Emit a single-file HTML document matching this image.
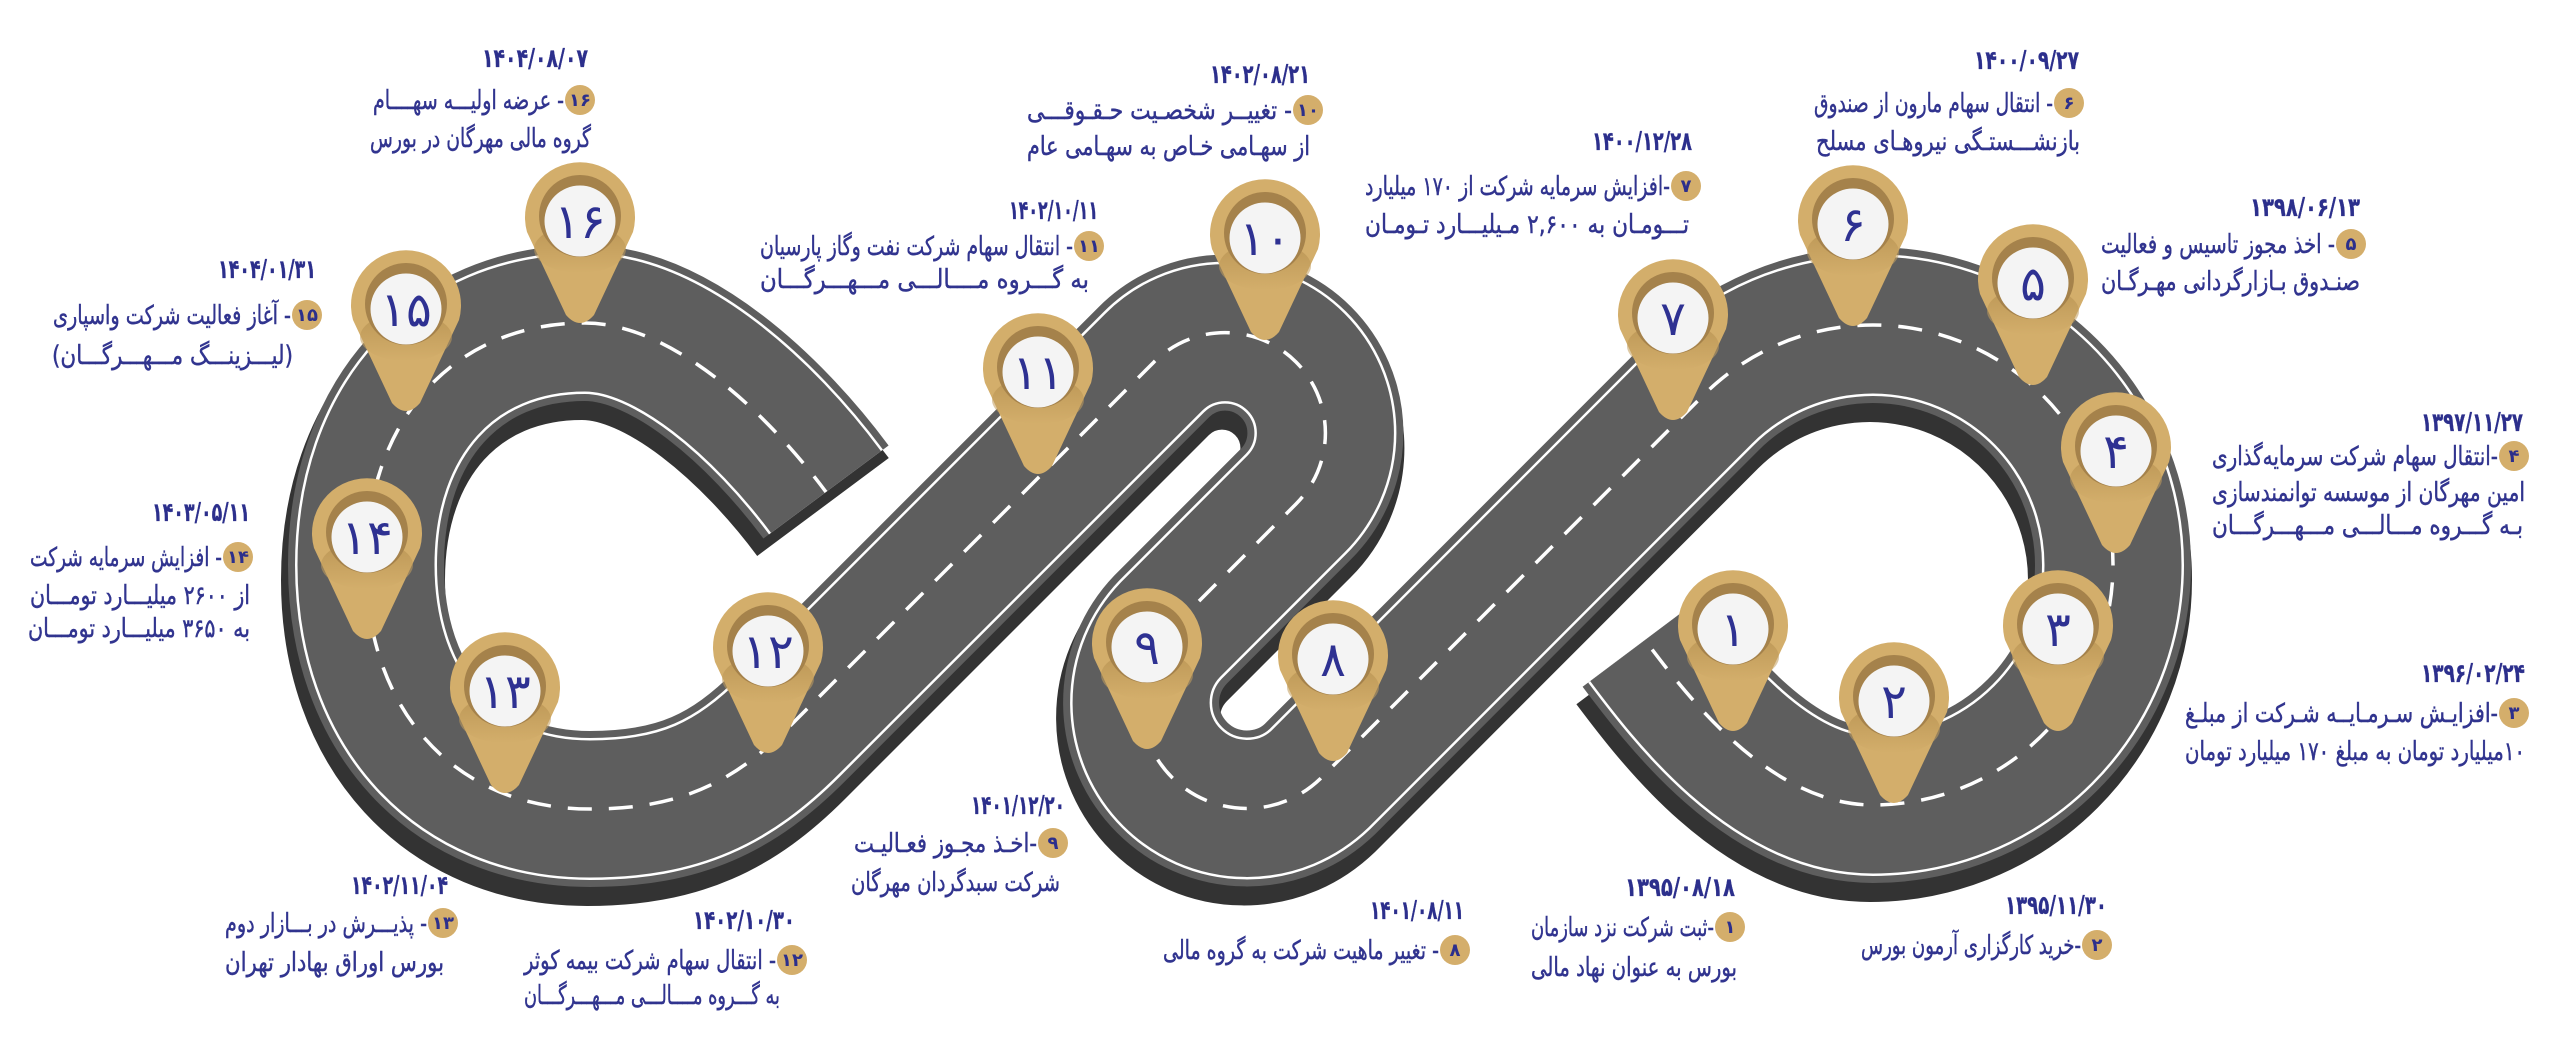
<!DOCTYPE html>
<html><head><meta charset="utf-8">
<style>
html,body{margin:0;padding:0;background:#fff;}
svg{display:block;}
.t{font-family:"DejaVu Sans","Liberation Sans",sans-serif;font-size:26px;fill:#31348f;stroke:#31348f;stroke-width:0.45;direction:rtl;}
.d{font-family:"DejaVu Sans","Liberation Sans",sans-serif;font-size:26px;font-weight:bold;fill:#2c2f8c;stroke:#2c2f8c;stroke-width:0.3;}
.b{font-family:"DejaVu Sans","Liberation Sans",sans-serif;font-size:18px;font-weight:bold;fill:#2c2f8c;}
.n{font-family:"DejaVu Sans","Liberation Sans",sans-serif;font-size:48px;fill:#2e3192;}
</style></head>
<body>
<svg width="2560" height="1056" viewBox="0 0 2560 1056" xmlns="http://www.w3.org/2000/svg">
<defs>
<path id="road" fill="none" d="M 1645 640 C 1687 696 1770 805 1873 805 A 240 240 0 0 0 2113 565 A 240 240 0 0 0 1703.3 395.3 L 1320 779 A 105.7 105.7 0 0 1 1170.5 629.6 L 1296 504 A 100.4 100.4 0 0 0 1154 362 L 790 726 C 733.4 782.6 680 809 590 809 C 456 809 366 711 366 565 C 366 420 454 323 585 323 C 670 323 765 410 826 492"/>
<linearGradient id="sh" x1="0" y1="0" x2="0" y2="1">
<stop offset="0" stop-color="#a98445"/>
<stop offset="1" stop-color="#d3ae6b"/>
</linearGradient>
<g id="pin">
<path d="M -53,15 A 55 55 0 1 1 53,15 L 14,98 Q 0,114 -14,98 Z" fill="#d3ae6b"/>
<ellipse cx="0" cy="32" rx="46" ry="24" fill="url(#sh)" opacity="0.55"/>
<circle cx="0" cy="-1" r="41" fill="#a5824b"/>
<circle cx="0" cy="4" r="35.5" fill="#f4f4f4"/>
</g>
</defs>

<!-- road -->
<use href="#road" stroke="#333333" stroke-width="164" transform="translate(-3,15)"/>
<use href="#road" stroke="#5e5e5e" stroke-width="156"/>
<use href="#road" stroke="#ffffff" stroke-width="142"/>
<use href="#road" stroke="#5e5e5e" stroke-width="137"/>
<use href="#road" stroke="#ffffff" stroke-width="3.5" stroke-dasharray="24 17" stroke-dashoffset="-12"/>

<!-- pins -->
<g transform="translate(580,217)"><use href="#pin"/><text class="n" x="0" y="21" text-anchor="middle">۱۶</text></g>
<g transform="translate(1853,220)"><use href="#pin"/><text class="n" x="0" y="21" text-anchor="middle">۶</text></g>
<g transform="translate(1265,234)"><use href="#pin"/><text class="n" x="0" y="21" text-anchor="middle">۱۰</text></g>
<g transform="translate(2033,279)"><use href="#pin"/><text class="n" x="0" y="21" text-anchor="middle">۵</text></g>
<g transform="translate(406,305)"><use href="#pin"/><text class="n" x="0" y="21" text-anchor="middle">۱۵</text></g>
<g transform="translate(1673,314)"><use href="#pin"/><text class="n" x="0" y="21" text-anchor="middle">۷</text></g>
<g transform="translate(1038,368)"><use href="#pin"/><text class="n" x="0" y="21" text-anchor="middle">۱۱</text></g>
<g transform="translate(2116,447)"><use href="#pin"/><text class="n" x="0" y="21" text-anchor="middle">۴</text></g>
<g transform="translate(367,533)"><use href="#pin"/><text class="n" x="0" y="21" text-anchor="middle">۱۴</text></g>
<g transform="translate(1733,625)"><use href="#pin"/><text class="n" x="0" y="21" text-anchor="middle">۱</text></g>
<g transform="translate(2058,625)"><use href="#pin"/><text class="n" x="0" y="21" text-anchor="middle">۳</text></g>
<g transform="translate(1147,643)"><use href="#pin"/><text class="n" x="0" y="21" text-anchor="middle">۹</text></g>
<g transform="translate(768,647)"><use href="#pin"/><text class="n" x="0" y="21" text-anchor="middle">۱۲</text></g>
<g transform="translate(1333,655)"><use href="#pin"/><text class="n" x="0" y="21" text-anchor="middle">۸</text></g>
<g transform="translate(505,687)"><use href="#pin"/><text class="n" x="0" y="21" text-anchor="middle">۱۳</text></g>
<g transform="translate(1894,697)"><use href="#pin"/><text class="n" x="0" y="21" text-anchor="middle">۲</text></g>

<!-- badges -->
<g fill="#d4ae6b">
<circle cx="580" cy="100" r="15"/>
<circle cx="307" cy="315" r="15"/>
<circle cx="238" cy="557" r="15"/>
<circle cx="443" cy="923" r="15"/>
<circle cx="792" cy="960" r="15"/>
<circle cx="1089" cy="246" r="15"/>
<circle cx="1308" cy="110" r="15"/>
<circle cx="1053" cy="843" r="15"/>
<circle cx="1455" cy="950" r="15"/>
<circle cx="1686" cy="186" r="15"/>
<circle cx="2069" cy="103" r="15"/>
<circle cx="2351" cy="244" r="15"/>
<circle cx="2514" cy="456" r="15"/>
<circle cx="2514" cy="713" r="15"/>
<circle cx="2097" cy="945" r="15"/>
<circle cx="1730" cy="927" r="15"/>
</g>
<g text-anchor="middle">
<text class="b" x="580" y="106">۱۶</text>
<text class="b" x="307" y="321">۱۵</text>
<text class="b" x="238" y="563">۱۴</text>
<text class="b" x="443" y="929">۱۳</text>
<text class="b" x="792" y="966">۱۲</text>
<text class="b" x="1089" y="252">۱۱</text>
<text class="b" x="1308" y="116">۱۰</text>
<text class="b" x="1053" y="849">۹</text>
<text class="b" x="1455" y="956">۸</text>
<text class="b" x="1686" y="192">۷</text>
<text class="b" x="2069" y="109">۶</text>
<text class="b" x="2351" y="250">۵</text>
<text class="b" x="2514" y="462">۴</text>
<text class="b" x="2514" y="719">۳</text>
<text class="b" x="2097" y="951">۲</text>
<text class="b" x="1730" y="933">۱</text>
</g>

<!-- dates -->
<g text-anchor="middle">
<text class="d" x="535" y="67" textLength="106" lengthAdjust="spacingAndGlyphs">۱۴۰۴/۰۸/۰۷</text>
<text class="d" x="267" y="278" textLength="98" lengthAdjust="spacingAndGlyphs">۱۴۰۴/۰۱/۳۱</text>
<text class="d" x="201" y="521" textLength="98" lengthAdjust="spacingAndGlyphs">۱۴۰۳/۰۵/۱۱</text>
<text class="d" x="399.5" y="894" textLength="97" lengthAdjust="spacingAndGlyphs">۱۴۰۲/۱۱/۰۴</text>
<text class="d" x="744" y="929" textLength="102" lengthAdjust="spacingAndGlyphs">۱۴۰۲/۱۰/۳۰</text>
<text class="d" x="1053.5" y="219" textLength="89" lengthAdjust="spacingAndGlyphs">۱۴۰۲/۱۰/۱۱</text>
<text class="d" x="1260" y="83" textLength="100" lengthAdjust="spacingAndGlyphs">۱۴۰۲/۰۸/۲۱</text>
<text class="d" x="1018" y="814" textLength="94" lengthAdjust="spacingAndGlyphs">۱۴۰۱/۱۲/۲۰</text>
<text class="d" x="1417" y="919" textLength="94" lengthAdjust="spacingAndGlyphs">۱۴۰۱/۰۸/۱۱</text>
<text class="d" x="1642" y="150" textLength="100" lengthAdjust="spacingAndGlyphs">۱۴۰۰/۱۲/۲۸</text>
<text class="d" x="2026.5" y="69" textLength="105" lengthAdjust="spacingAndGlyphs">۱۴۰۰/۰۹/۲۷</text>
<text class="d" x="2305" y="216" textLength="110" lengthAdjust="spacingAndGlyphs">۱۳۹۸/۰۶/۱۳</text>
<text class="d" x="2472" y="431" textLength="102" lengthAdjust="spacingAndGlyphs">۱۳۹۷/۱۱/۲۷</text>
<text class="d" x="2473" y="682" textLength="104" lengthAdjust="spacingAndGlyphs">۱۳۹۶/۰۲/۲۴</text>
<text class="d" x="2056" y="914" textLength="102" lengthAdjust="spacingAndGlyphs">۱۳۹۵/۱۱/۳۰</text>
<text class="d" x="1680" y="896" textLength="110" lengthAdjust="spacingAndGlyphs">۱۳۹۵/۰۸/۱۸</text>
</g>

<!-- body lines -->
<g text-anchor="middle">
<text class="t" x="468.5" y="109" textLength="191" lengthAdjust="spacingAndGlyphs">- عرضه اولیـــه سهــــام</text>
<text class="t" x="480.5" y="147" textLength="221" lengthAdjust="spacingAndGlyphs">گروه مالی مهرگان در بورس</text>

<text class="t" x="172" y="324" textLength="238" lengthAdjust="spacingAndGlyphs">- آغاز فعالیت شرکت واسپاری</text>
<text class="t" x="172.5" y="364" textLength="241" lengthAdjust="spacingAndGlyphs">(لیـــزینـــگ مـــهـــرگـــان)</text>

<text class="t" x="126" y="566" textLength="192" lengthAdjust="spacingAndGlyphs">- افزایش سرمایه شرکت</text>
<text class="t" x="140" y="604" textLength="220" lengthAdjust="spacingAndGlyphs">از ۲۶۰۰ میلیـــارد تومـــان</text>
<text class="t" x="139" y="637" textLength="222" lengthAdjust="spacingAndGlyphs">به ۳۶۵۰ میلیـــارد تومـــان</text>

<text class="t" x="326" y="932" textLength="202" lengthAdjust="spacingAndGlyphs">- پذیـــرش در بـــازار دوم</text>
<text class="t" x="334.5" y="971" textLength="219" lengthAdjust="spacingAndGlyphs">بورس اوراق بهادار تهران</text>

<text class="t" x="650" y="969" textLength="252" lengthAdjust="spacingAndGlyphs">- انتقال سهام شرکت بیمه کوثر</text>
<text class="t" x="652" y="1004" textLength="256" lengthAdjust="spacingAndGlyphs">به گـــروه مــــالـــی مـــهـــرگـــان</text>

<text class="t" x="916.5" y="255" textLength="313" lengthAdjust="spacingAndGlyphs">- انتقال سهام شرکت نفت وگاز پارسیان</text>
<text class="t" x="924.5" y="288" textLength="329" lengthAdjust="spacingAndGlyphs">به گـــروه مــــالـــی مـــهـــرگـــان</text>

<text class="t" x="1159.5" y="119" textLength="265" lengthAdjust="spacingAndGlyphs">- تغییــر شخصـیت حـقـوقـــی</text>
<text class="t" x="1168.5" y="155" textLength="283" lengthAdjust="spacingAndGlyphs">از سهـامی خـاص به سهـامی عام</text>

<text class="t" x="945.5" y="852" textLength="183" lengthAdjust="spacingAndGlyphs">-اخـذ مجـوز فعـالیـت</text>
<text class="t" x="955.5" y="891" textLength="209" lengthAdjust="spacingAndGlyphs">شرکت سبدگردان مهرگان</text>

<text class="t" x="1301" y="959" textLength="276" lengthAdjust="spacingAndGlyphs">- تغییر ماهیت شرکت به گروه مالی</text>

<text class="t" x="1517.5" y="195" textLength="305" lengthAdjust="spacingAndGlyphs">-افزایش سرمایه شرکت از ۱۷۰ میلیارد</text>
<text class="t" x="1527" y="233" textLength="324" lengthAdjust="spacingAndGlyphs">تـــومـان به ۲,۶۰۰ مـیلیـــارد تـومـان</text>

<text class="t" x="1933.5" y="112" textLength="239" lengthAdjust="spacingAndGlyphs">- انتقال سهام مارون از صندوق</text>
<text class="t" x="1948" y="150" textLength="264" lengthAdjust="spacingAndGlyphs">بازنشـــستـگی نیروهـای مسلح</text>

<text class="t" x="2218" y="253" textLength="234" lengthAdjust="spacingAndGlyphs">- اخذ مجوز تاسیس و فعالیت</text>
<text class="t" x="2230.5" y="290" textLength="259" lengthAdjust="spacingAndGlyphs">صنـدوق بـازارگردانی مهـرگـان</text>

<text class="t" x="2355" y="465" textLength="286" lengthAdjust="spacingAndGlyphs">-انتقال سهام شرکت سرمایه‌گذاری</text>
<text class="t" x="2368.5" y="501" textLength="313" lengthAdjust="spacingAndGlyphs">امین مهرگان از موسسه توانمندسازی</text>
<text class="t" x="2367.5" y="534" textLength="311" lengthAdjust="spacingAndGlyphs">بـه گـــروه مـــالـــی مـــهـــرگـــان</text>

<text class="t" x="2341.5" y="722" textLength="313" lengthAdjust="spacingAndGlyphs">-افزایـش سـرمـایــه شـرکت از مبلـغ</text>
<text class="t" x="2355" y="760" textLength="340" lengthAdjust="spacingAndGlyphs">۱۰میلیارد تومان به مبلغ ۱۷۰ میلیارد تومان</text>

<text class="t" x="1971" y="954" textLength="220" lengthAdjust="spacingAndGlyphs">-خرید کارگزاری آرمون بورس</text>

<text class="t" x="1622.5" y="936" textLength="183" lengthAdjust="spacingAndGlyphs">-ثبت شرکت نزد سازمان</text>
<text class="t" x="1634" y="976" textLength="206" lengthAdjust="spacingAndGlyphs">بورس به عنوان نهاد مالی</text>
</g>
</svg>
</body></html>
